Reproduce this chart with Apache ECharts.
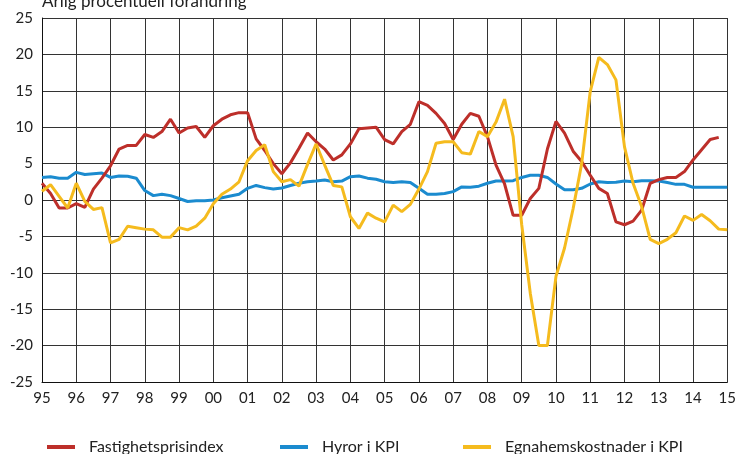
<!DOCTYPE html>
<html>
<head>
<meta charset="utf-8">
<script src="https://cdn.jsdelivr.net/npm/echarts@6/dist/echarts.min.js"></script>
<style>
    html, body { margin: 0; padding: 0; background: #fff; }
    #chart { width: 739px; height: 454px; }
</style>
</head>
<body>
<div id="chart"></div>
<script>
// kvartal 1995 Q1 - 2015 Q1
const yearLabels = ['95', '96', '97', '98', '99', '00', '01', '02', '03', '04',
    '05', '06', '07', '08', '09', '10', '11', '12', '13', '14', '15'];

const fastighetspris = [
    2.3, 0.9, -1.1, -1.1,
    -0.5, -1.0, 1.5, 3.0,
    4.7, 7.0, 7.5, 7.5,
    9.0, 8.6, 9.4, 11.1,
    9.2, 9.9, 10.1, 8.6,
    10.2, 11.1, 11.7, 12.0,
    12.0, 8.4, 6.8, 5.0,
    3.6, 5.1, 7.1, 9.2,
    8.0, 7.0, 5.5, 6.2,
    7.7, 9.8, 9.9, 10.0,
    8.3, 7.7, 9.4, 10.4,
    13.5, 13.0, 11.9, 10.5,
    8.3, 10.4, 11.9, 11.5,
    8.7, 4.8, 2.2, -2.1,
    -2.1, 0.2, 1.6, 7.0,
    10.8, 9.2, 6.7, 5.3,
    3.4, 1.6, 0.9, -3.0,
    -3.4, -2.9, -1.4, 2.3,
    2.8, 3.1, 3.1, 3.9,
    5.5, 6.9, 8.3, 8.6
];

const hyror = [
    3.1, 3.2, 3.0, 3.0,
    3.8, 3.5, 3.6, 3.7,
    3.1, 3.3, 3.25, 3.0,
    1.3, 0.6, 0.8, 0.6,
    0.2, -0.2, -0.1, -0.1,
    0.0, 0.3, 0.55, 0.8,
    1.6, 2.0, 1.7, 1.5,
    1.65, 2.0, 2.3, 2.5,
    2.6, 2.75, 2.5, 2.6,
    3.2, 3.3, 3.0, 2.85,
    2.5, 2.4, 2.5, 2.4,
    1.6, 0.8, 0.8, 0.9,
    1.15, 1.8, 1.75, 1.9,
    2.3, 2.6, 2.6, 2.65,
    3.1, 3.4, 3.4, 3.1,
    2.2, 1.4, 1.4, 1.6,
    2.2, 2.5, 2.4, 2.45,
    2.6, 2.5, 2.65, 2.65,
    2.6, 2.4, 2.15, 2.15,
    1.75, 1.75, 1.75, 1.75,
    1.75
];

const egnahem = [
    1.2, 2.1, 0.5, -1.1,
    2.3, -0.2, -1.3, -1.05,
    -5.9, -5.4, -3.6, -3.8,
    -4.0, -4.1, -5.1, -5.1,
    -3.8, -4.1, -3.6, -2.5,
    -0.5, 0.8, 1.5, 2.5,
    5.4, 6.8, 7.6, 3.9,
    2.5, 2.8, 1.9, 4.9,
    7.7, 4.8, 2.0, 1.8,
    -2.3, -3.9, -1.8, -2.5,
    -3.0, -0.7, -1.6, -0.6,
    1.5, 3.9, 7.8, 8.0,
    8.0, 6.5, 6.3, 9.4,
    8.7, 10.7, 13.85, 8.7,
    -3.4, -12.8, -20.0, -20.0,
    -10.5, -6.6, -1.2, 5.0,
    14.9, 19.6, 18.6, 16.5,
    7.3, 2.3, -0.9, -5.4,
    -6.0, -5.4, -4.5, -2.2,
    -2.8, -2.0, -2.85, -4.0,
    -4.1
];

const names = ['Fastighetsprisindex', 'Hyror i KPI', 'Egnahemskostnader i KPI'];
const colors = ['#bd2f2a', '#1b8bcf', '#f5bb1e'];

// en kategori per kvartal, etikett bara vid årsskiftet
let quarters = [];
yearLabels.forEach((y, i) => {
    quarters.push(y);
    if (i < yearLabels.length - 1) {
        quarters.push('', '', '');
    }
});

const font = 'Lato';
const textColor = '#222';

function legendAt (name, left) {
    return {
        data: [name],
        left: left,
        top: 434,
        icon: 'rect',
        itemWidth: 28,
        itemHeight: 4,
        textStyle: {
            fontFamily: font,
            fontSize: 16,
            color: textColor,
            padding: [0, 0, 0, 9],
        },
    };
}

const chart = echarts.init(document.getElementById('chart'));
chart.setOption({
    animation: false,
    grid: {
        left: 42,
        right: 8,
        top: 18,
        bottom: 72,
    },
    graphic: [{
        type: 'text',
        left: 42,
        top: -7,
        style: {
            text: 'Årlig procentuell förändring',
            fontFamily: font,
            fontSize: 17,
            fill: textColor,
        },
    }],
    legend: [
        legendAt(names[0], 42),
        legendAt(names[1], 275),
        legendAt(names[2], 458),
    ],
    xAxis: {
        type: 'category',
        boundaryGap: false,
        data: quarters,
        axisLine: { onZero: false, lineStyle: { color: '#111', width: 1 } },
        axisTick: { show: false },
        axisLabel: {
            interval: 3,
            margin: 9,
            fontFamily: font,
            fontSize: 15,
            color: textColor,
        },
        splitLine: {
            show: true,
            interval: 3,
            lineStyle: { color: '#333', width: 1 },
        },
    },
    yAxis: {
        type: 'value',
        min: -25,
        max: 25,
        interval: 5,
        axisLine: { show: true, lineStyle: { color: '#111', width: 1 } },
        axisTick: { show: false },
        axisLabel: {
            margin: 9,
            fontFamily: font,
            fontSize: 15,
            color: textColor,
        },
        splitLine: {
            lineStyle: { color: '#333', width: 1 },
        },
    },
    series: [
        {
            name: names[1],
            type: 'line',
            data: hyror,
            showSymbol: false,
            z: 2,
            lineStyle: { color: colors[1], width: 3 },
            itemStyle: { color: colors[1] },
        },
        {
            name: names[0],
            type: 'line',
            data: fastighetspris,
            showSymbol: false,
            z: 3,
            lineStyle: { color: colors[0], width: 3 },
            itemStyle: { color: colors[0] },
        },
        {
            name: names[2],
            type: 'line',
            data: egnahem,
            showSymbol: false,
            z: 4,
            lineStyle: { color: colors[2], width: 3 },
            itemStyle: { color: colors[2] },
        },
    ],
});
</script>
</body>
</html>
